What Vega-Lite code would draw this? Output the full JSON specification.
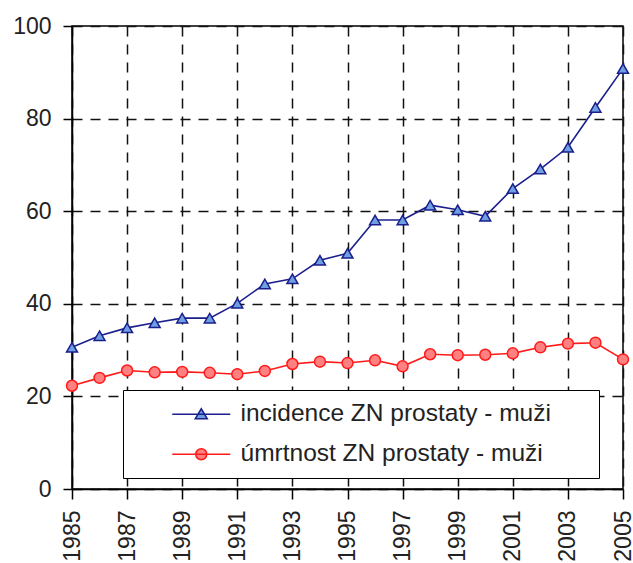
{
  "$schema": "https://vega.github.io/schema/vega-lite/v6.json",
  "width": 551,
  "height": 463,
  "autosize": {"type": "none"},
  "padding": {"left": 72, "top": 26, "right": 10, "bottom": 74},
  "background": "white",
  "config": {
    "view": {"stroke": "black", "strokeWidth": 1.5},
    "font": "Liberation Sans",
    "axis": {
      "domainColor": "black",
      "domainWidth": 1.5,
      "tickColor": "black",
      "tickWidth": 1.5,
      "tickSize": 10,
      "labelFont": "Liberation Sans",
      "labelFontSize": 23,
      "labelColor": "#222",
      "gridColor": "#111",
      "gridWidth": 1.5,
      "gridDash": [10, 8],
      "gridOpacity": 1,
      "title": null
    }
  },
  "data": {
    "values": [
      {"year": 1985, "series": "incidence ZN prostaty - muži", "value": 30.6},
      {"year": 1986, "series": "incidence ZN prostaty - muži", "value": 33.1},
      {"year": 1987, "series": "incidence ZN prostaty - muži", "value": 34.8},
      {"year": 1988, "series": "incidence ZN prostaty - muži", "value": 35.9},
      {"year": 1989, "series": "incidence ZN prostaty - muži", "value": 36.9},
      {"year": 1990, "series": "incidence ZN prostaty - muži", "value": 36.9},
      {"year": 1991, "series": "incidence ZN prostaty - muži", "value": 40.1},
      {"year": 1992, "series": "incidence ZN prostaty - muži", "value": 44.3},
      {"year": 1993, "series": "incidence ZN prostaty - muži", "value": 45.4},
      {"year": 1994, "series": "incidence ZN prostaty - muži", "value": 49.4},
      {"year": 1995, "series": "incidence ZN prostaty - muži", "value": 50.9},
      {"year": 1996, "series": "incidence ZN prostaty - muži", "value": 58.1},
      {"year": 1997, "series": "incidence ZN prostaty - muži", "value": 58.1},
      {"year": 1998, "series": "incidence ZN prostaty - muži", "value": 61.3},
      {"year": 1999, "series": "incidence ZN prostaty - muži", "value": 60.3},
      {"year": 2000, "series": "incidence ZN prostaty - muži", "value": 58.9},
      {"year": 2001, "series": "incidence ZN prostaty - muži", "value": 64.9},
      {"year": 2002, "series": "incidence ZN prostaty - muži", "value": 69.1},
      {"year": 2003, "series": "incidence ZN prostaty - muži", "value": 73.8},
      {"year": 2004, "series": "incidence ZN prostaty - muži", "value": 82.4},
      {"year": 2005, "series": "incidence ZN prostaty - muži", "value": 90.8},
      {"year": 1985, "series": "úmrtnost ZN prostaty - muži", "value": 22.3},
      {"year": 1986, "series": "úmrtnost ZN prostaty - muži", "value": 24.0},
      {"year": 1987, "series": "úmrtnost ZN prostaty - muži", "value": 25.6},
      {"year": 1988, "series": "úmrtnost ZN prostaty - muži", "value": 25.2},
      {"year": 1989, "series": "úmrtnost ZN prostaty - muži", "value": 25.3},
      {"year": 1990, "series": "úmrtnost ZN prostaty - muži", "value": 25.1},
      {"year": 1991, "series": "úmrtnost ZN prostaty - muži", "value": 24.8},
      {"year": 1992, "series": "úmrtnost ZN prostaty - muži", "value": 25.5},
      {"year": 1993, "series": "úmrtnost ZN prostaty - muži", "value": 27.0},
      {"year": 1994, "series": "úmrtnost ZN prostaty - muži", "value": 27.5},
      {"year": 1995, "series": "úmrtnost ZN prostaty - muži", "value": 27.2},
      {"year": 1996, "series": "úmrtnost ZN prostaty - muži", "value": 27.8},
      {"year": 1997, "series": "úmrtnost ZN prostaty - muži", "value": 26.5},
      {"year": 1998, "series": "úmrtnost ZN prostaty - muži", "value": 29.1},
      {"year": 1999, "series": "úmrtnost ZN prostaty - muži", "value": 28.9},
      {"year": 2000, "series": "úmrtnost ZN prostaty - muži", "value": 29.0},
      {"year": 2001, "series": "úmrtnost ZN prostaty - muži", "value": 29.3},
      {"year": 2002, "series": "úmrtnost ZN prostaty - muži", "value": 30.6},
      {"year": 2003, "series": "úmrtnost ZN prostaty - muži", "value": 31.4},
      {"year": 2004, "series": "úmrtnost ZN prostaty - muži", "value": 31.6},
      {"year": 2005, "series": "úmrtnost ZN prostaty - muži", "value": 28.0}
    ]
  },
  "encoding": {
    "x": {
      "field": "year",
      "type": "quantitative",
      "scale": {"domain": [1985, 2005], "nice": false, "zero": false},
      "axis": {
        "values": [1985, 1987, 1989, 1991, 1993, 1995, 1997, 1999, 2001, 2003, 2005],
        "format": "d",
        "labelAngle": -90,
        "labelPadding": 11,
        "labelAlign": "right",
        "labelBaseline": "middle",
        "labelFlush": false,
        "labelOverlap": false
      }
    },
    "y": {
      "field": "value",
      "type": "quantitative",
      "scale": {"domain": [0, 100], "nice": false},
      "axis": {"values": [0, 20, 40, 60, 80, 100], "labelPadding": 12, "tickSize": 9, "labelFlush": false, "labelOverlap": false}
    }
  },
  "layer": [
    {
      "mark": {"type": "line", "strokeWidth": 1.6},
      "encoding": {
        "color": {
          "field": "series",
          "type": "nominal",
          "scale": {
            "domain": ["incidence ZN prostaty - muži", "úmrtnost ZN prostaty - muži"],
            "range": ["#1b1f8c", "#ff1a1a"]
          },
          "legend": {
            "orient": "none",
            "legendX": 51,
            "legendY": 364,
            "title": null,
            "fillColor": "white",
            "strokeColor": "black",
            "padding": 12,
            "symbolSize": 400,
            "symbolStrokeWidth": 1.5,
            "labelOffset": 81,
            "labelFont": "Liberation Sans",
            "labelFontSize": 24.5,
            "labelColor": "#222",
            "labelLimit": 0,
            "rowPadding": 15,
            "labelExpr": "datum.label + '\u2800\u2800'",
            "encode": {
              "symbols": {
                "update": {
                  "shape": {"signal": "datum.value === 'incidence ZN prostaty - muži' ? 'M2.5,0H8.3M5.4,-0.55L6.0,0.45L4.8,0.45Z' : 'M2.5,0H8.3M5.95,0A0.55,0.55,0,1,1,4.85,0A0.55,0.55,0,1,1,5.95,0Z'"},
                  "fill": {"signal": "datum.value === 'incidence ZN prostaty - muži' ? '#6f9fe3' : '#ff8080'"},
                  "fillOpacity": {"value": 1},
                  "strokeWidth": {"value": 1.5}
                }
              }
            }
          }
        }
      }
    },
    {
      "transform": [{"filter": "datum.series === 'incidence ZN prostaty - muži'"}],
      "mark": {"type": "point", "shape": "triangle-up", "filled": true, "fill": "#6f9fe3", "stroke": "#1b1f8c", "strokeWidth": 1.5, "opacity": 1, "size": 120}
    },
    {
      "transform": [{"filter": "datum.series === 'úmrtnost ZN prostaty - muži'"}],
      "mark": {"type": "point", "shape": "circle", "filled": true, "fill": "#ff8080", "stroke": "#ff1a1a", "strokeWidth": 1.5, "opacity": 1, "size": 120}
    }
  ]
}
